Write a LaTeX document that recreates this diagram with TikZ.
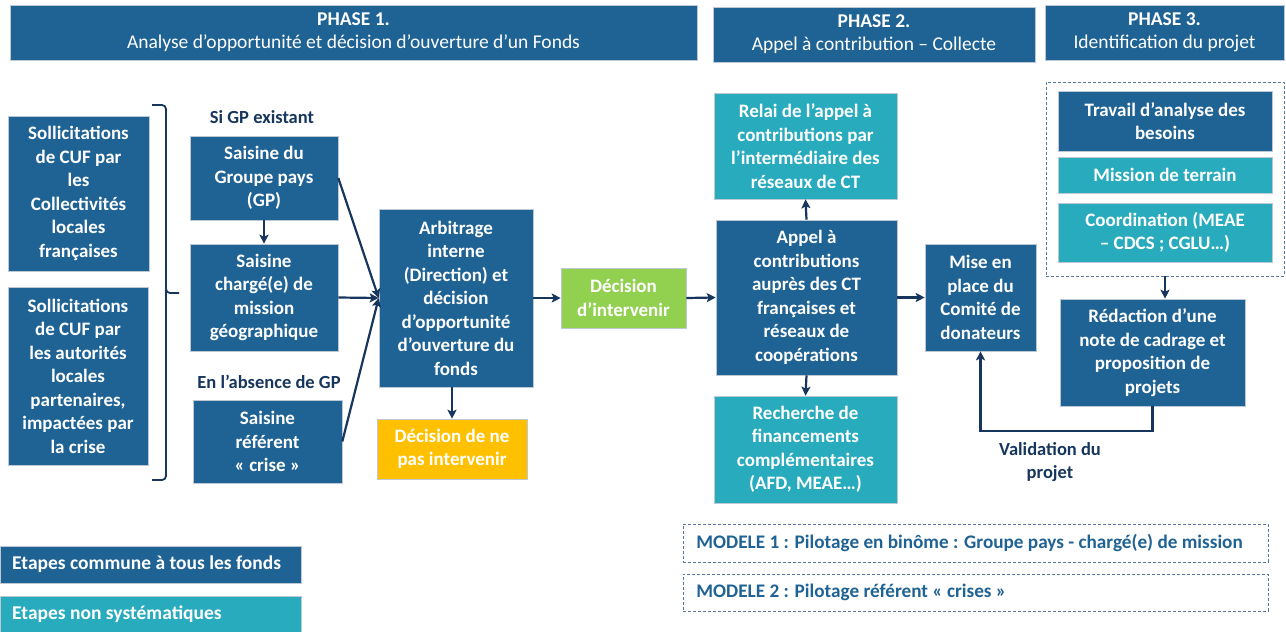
\documentclass[tikz,border=0pt]{standalone}
\usepackage{fontspec}
\setmainfont{Carlito}
\usetikzlibrary{arrows.meta}
\definecolor{cdark}{RGB}{31,98,148}
\definecolor{cteal}{RGB}{41,171,190}
\definecolor{cnavy}{RGB}{23,54,93}
\definecolor{cgreen}{RGB}{146,208,80}
\definecolor{cyellow}{RGB}{255,192,0}
\definecolor{cdash}{RGB}{90,118,155}
\definecolor{cedge}{RGB}{190,200,212}
\begin{document}
\begin{tikzpicture}[x=1pt,y=-1pt,
  base/.style={inner sep=1pt, align=center, text=white, draw=cedge, line width=0.6pt,
    font=\bfseries\fontsize{19}{23.5}\selectfont},
  dk/.style={base, fill=cdark},
  tl/.style={base, fill=cteal},
  hdr/.style={base, fill=cdark, draw=cedge, font=\fontsize{19.5}{23}\selectfont},
  lbl/.style={text=cnavy, align=center, font=\bfseries\fontsize{18.5}{23}\selectfont},
  leg/.style={inner sep=0pt, text=white, align=left, anchor=west, font=\bfseries\fontsize{19.5}{22}\selectfont},
  model/.style={draw=cdash, dashed, dash pattern=on 3pt off 2pt, line width=0.9pt, anchor=west,
    text=cdark, align=flush left, inner xsep=13pt, text width=559pt, font=\bfseries\fontsize{19.2}{22}\selectfont},
  arr/.style={-{Stealth[length=9pt,width=9pt,inset=2pt]}, line width=2.2pt, draw=cnavy},
]
\useasboundingbox (0,0) rectangle (1286,632);

% phase headers
\node[hdr, minimum width=687pt, minimum height=55pt] (ph1) at (353.5,32.5)
  {\textbf{PHASE 1.}\\Analyse d’opportunité et décision d’ouverture d’un Fonds};
\node[hdr, minimum width=322pt, minimum height=55pt] (ph2) at (874,34.5)
  {\textbf{PHASE 2.}\\Appel à contribution – Collecte};
\node[hdr, minimum width=239pt, minimum height=55pt] (ph3) at (1164.5,32.5)
  {\textbf{PHASE 3.}\\Identification du projet};

% left column
\node[dk, minimum width=141pt, minimum height=155pt] (soll1) at (78.5,193.5)
  {Sollicitations\\de CUF par\\les\\Collectivités\\locales\\françaises};
\node[dk, minimum width=140pt, minimum height=178pt] (soll2) at (78,376)
  {Sollicitations\\de CUF par\\les autorités\\locales\\partenaires,\\impactées par\\la crise};

% bracket
\draw[cnavy, line width=1.8pt, rounded corners=4pt] (152,105) -- (166,105) -- (166,293) -- (179,293);
\draw[cnavy, line width=1.8pt, rounded corners=4pt] (166,290) -- (166,480) -- (152,480);

\node[lbl] (si) at (262,117) {Si GP existant};
\node[lbl] (abs) at (269,382) {En l’absence de GP};

\node[dk, minimum width=148pt, minimum height=84pt] (gp) at (264,178)
  {Saisine du\\Groupe pays\\(GP)};
\node[dk, minimum width=148pt, minimum height=107pt] (charge) at (264,297.5)
  {Saisine\\chargé(e) de\\mission\\géographique};
\node[dk, minimum width=149pt, minimum height=83pt] (ref) at (267.5,441.5)
  {Saisine\\référent\\« crise »};

\node[dk, minimum width=154pt, minimum height=178pt] (arb) at (456,298)
  {Arbitrage\\interne\\(Direction) et\\décision\\d’opportunité\\d’ouverture du\\fonds};
\node[base, fill=cyellow, minimum width=150pt, minimum height=60pt] (nepas) at (452,449)
  {Décision de ne\\pas intervenir};
\node[base, fill=cgreen, minimum width=125pt, minimum height=60pt] (interv) at (623.5,298)
  {Décision\\d’intervenir};

% phase 2
\node[tl, minimum width=183pt, minimum height=106pt] (relai) at (805.5,146)
  {Relai de l’appel à\\contributions par\\l’intermédiaire des\\réseaux de CT};
\node[dk, minimum width=181pt, minimum height=155pt] (appel) at (806.5,297.5)
  {Appel à\\contributions\\auprès des CT\\françaises et\\réseaux de\\coopérations};
\node[tl, minimum width=183pt, minimum height=107pt] (rech) at (805.5,449.5)
  {Recherche de\\financements\\complémentaires\\(AFD, MEAE…)};
\node[dk, minimum width=111pt, minimum height=107pt] (mise) at (980.5,297.5)
  {Mise en\\place du\\Comité de\\donateurs};

% phase 3
\node[draw=cdash, dashed, dash pattern=on 3pt off 2pt, line width=0.9pt,
  minimum width=238pt, minimum height=194pt, inner sep=0pt] (dashbox) at (1165,179) {};
\node[dk, minimum width=214pt, minimum height=60pt] (travail) at (1165,121)
  {Travail d’analyse des\\besoins};
\node[tl, minimum width=214pt, minimum height=36pt] (mission) at (1165,175)
  {Mission de terrain};
\node[tl, minimum width=214pt, minimum height=59pt] (coord) at (1165,232.5)
  {Coordination (MEAE\\– CDCS ; CGLU…)};
\node[dk, minimum width=185pt, minimum height=107pt] (redac) at (1152.5,352.5)
  {Rédaction d’une\\note de cadrage et\\proposition de\\projets};
\node[lbl] (valid) at (1050,462) {Validation du\\projet};

% arrows
\draw[arr] (gp.east) -- (arb.west);
\draw[arr] (gp.south) -- (charge.north);
\draw[arr] (charge.east) -- (arb.west);
\draw[arr] (ref.east) -- (arb.west);
\draw[arr] (arb.south -| nepas.north) -- (nepas.north);
\draw[arr] (arb.east) -- (interv.west);
\draw[arr] (interv.east) -- (appel.west);
\draw[arr] (appel.north) -- (relai.south);
\draw[arr] (appel.south) -- (rech.north);
\draw[arr] (appel.east) -- (mise.west);
\draw[arr] (dashbox.south) -- (dashbox.south |- redac.north);
\draw[arr] (redac.south) -- ++(0,25) -| (mise.south);

% legend
\node[dk, minimum width=301pt, minimum height=37pt] (leg1) at (150.5,564.5) {};
\node[leg] (leg1t) at (12,564.5) {Etapes commune à tous les fonds};
\node[tl, minimum width=301pt, minimum height=36pt] (leg2) at (150.5,614) {};
\node[leg] (leg2t) at (12,614) {Etapes non systématiques};

\node[model, minimum height=38pt] (mod1) at (683,543)
  {MODELE 1 : Pilotage en binôme : Groupe pays - chargé(e) de mission};
\node[model, minimum height=37pt] (mod2) at (683,592.5)
  {MODELE 2 : Pilotage référent « crises »};
\end{tikzpicture}
\end{document}
